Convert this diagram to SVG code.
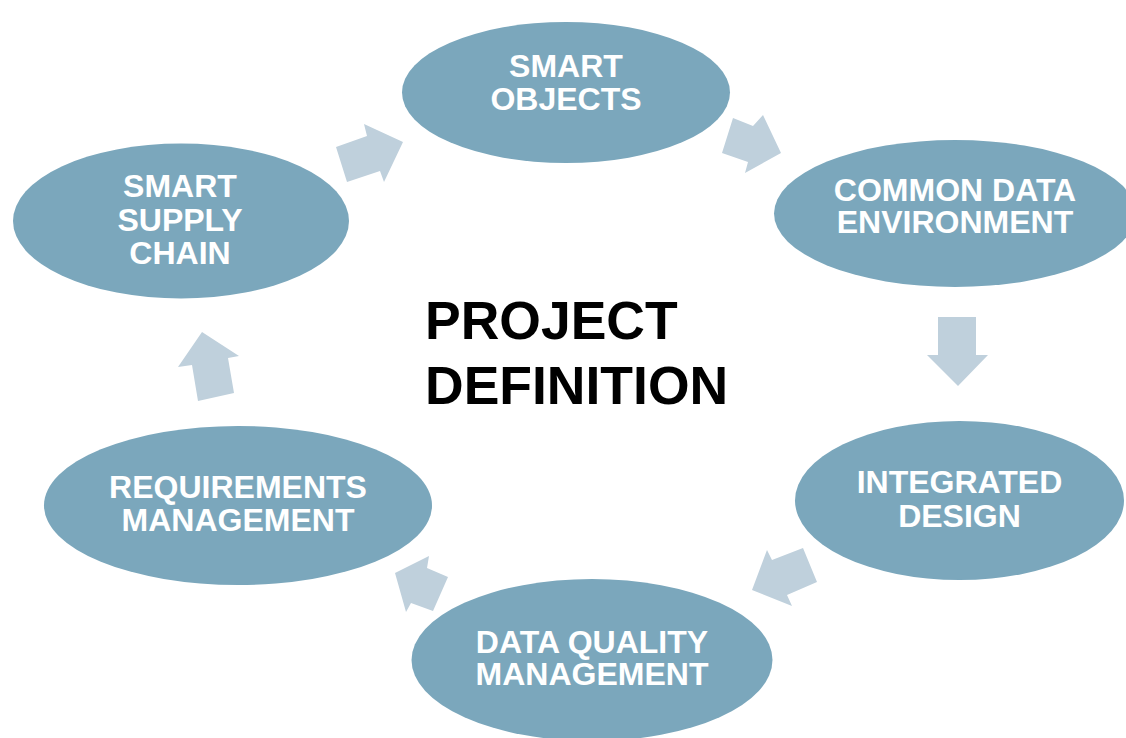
<svg xmlns="http://www.w3.org/2000/svg" width="1126" height="738" viewBox="0 0 1126 738">
  <style>
    .node { fill: #7BA7BC; }
    .lbl { font-family: "Liberation Sans", Arial, sans-serif; font-weight: bold; font-size: 32px; fill: #FFFFFF; text-anchor: middle; }
    .arrow { fill: #BFD0DC; }
    .title { font-family: "Liberation Sans", Arial, sans-serif; font-weight: bold; font-size: 53.5px; fill: #000000; }
  </style>
  <rect x="0" y="0" width="1126" height="738" fill="#FFFFFF"/>

  <g id="connectors">
    <polygon class="arrow" points="336,147 367,136 364,124 403,142 384,182 380,171 347,182"/>
    <polygon class="arrow" points="733,118 753,126 763,115 781,153 745,173 748,162 722,153"/>
    <polygon class="arrow" points="938,317 976,317 976,355 988,355 958,386 927,355 938,355"/>
    <polygon class="arrow" points="803,548 817,582 787,595 792,606 752,590 767,550 772,560"/>
    <polygon class="arrow" points="448,577 433,611 411,603 406,612 395,573 429,556 427,568"/>
    <polygon class="arrow" points="202,332 239,356 228,358 234,393 198,401 192,365 178,367"/>
  </g>

  <g id="node-smart-objects">
    <ellipse class="node" cx="566" cy="92.5" rx="164" ry="70.5"/>
    <text class="lbl" x="566" y="77">SMART</text>
    <text class="lbl" x="566" y="110">OBJECTS</text>
  </g>

  <g id="node-common-data-environment">
    <ellipse class="node" cx="955" cy="213.5" rx="181" ry="73.5"/>
    <text class="lbl" x="955" y="201">COMMON DATA</text>
    <text class="lbl" x="955" y="233">ENVIRONMENT</text>
  </g>

  <g id="node-integrated-design">
    <ellipse class="node" cx="959.5" cy="500.5" rx="164.5" ry="79.5"/>
    <text class="lbl" x="959.5" y="493">INTEGRATED</text>
    <text class="lbl" x="959.5" y="527">DESIGN</text>
  </g>

  <g id="node-data-quality-management">
    <ellipse class="node" cx="592" cy="660" rx="180.5" ry="81"/>
    <text class="lbl" x="592" y="653">DATA QUALITY</text>
    <text class="lbl" x="592" y="685">MANAGEMENT</text>
  </g>

  <g id="node-requirements-management">
    <ellipse class="node" cx="238" cy="505.5" rx="194" ry="79.5"/>
    <text class="lbl" x="238" y="498">REQUIREMENTS</text>
    <text class="lbl" x="238" y="531">MANAGEMENT</text>
  </g>

  <g id="node-smart-supply-chain">
    <ellipse class="node" cx="181" cy="221" rx="168" ry="77.5"/>
    <text class="lbl" x="180" y="197">SMART</text>
    <text class="lbl" x="180" y="231">SUPPLY</text>
    <text class="lbl" x="180" y="264">CHAIN</text>
  </g>

  <g id="center-title">
    <text class="title" x="425" y="339">PROJECT</text>
    <text class="title" x="425" y="404">DEFINITION</text>
  </g>
</svg>
